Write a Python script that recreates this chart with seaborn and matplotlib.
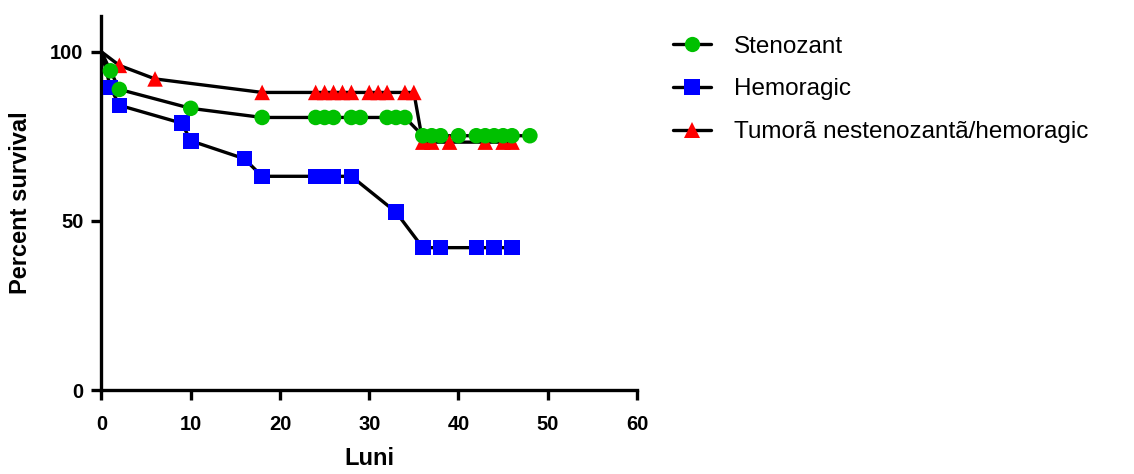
import matplotlib
matplotlib.use("Agg")
import matplotlib.pyplot as plt
from matplotlib.lines import Line2D
import pandas as pd
import seaborn as sns

# Kaplan-Meier style survival points (months, percent); the first point is the origin
groups = ["Stenozant", "Hemoragic", "Tumorã nestenozantã/hemoragic"]

stenozant_luni = [0, 1, 2, 10, 18, 24, 25, 26, 28, 29, 32, 33, 34,
                  36, 37, 38, 40, 42, 43, 44, 45, 46, 48]
stenozant_pct = [100, 94.4, 88.9, 83.3, 80.6, 80.6, 80.6, 80.6, 80.6, 80.6, 80.6, 80.6, 80.6,
                 75.2, 75.2, 75.2, 75.2, 75.2, 75.2, 75.2, 75.2, 75.2, 75.2]

hemoragic_luni = [0, 1, 2, 9, 10, 16, 18, 24, 25, 26, 28, 33, 36, 38, 42, 44, 46]
hemoragic_pct = [100, 89.5, 84.2, 78.9, 73.7, 68.4, 63.2, 63.2, 63.2, 63.2, 63.2,
                 52.6, 42.1, 42.1, 42.1, 42.1, 42.1]

tumora_luni = [0, 2, 6, 18, 24, 25, 26, 27, 28, 30, 31, 32, 34, 35,
               36, 37, 39, 43, 45, 46]
tumora_pct = [100, 96, 92, 88, 88, 88, 88, 88, 88, 88, 88, 88, 88, 88,
              73.3, 73.3, 73.3, 73.3, 73.3, 73.3]

colors = {groups[0]: "#00C000", groups[1]: "#0000FF", groups[2]: "#FF0000"}
markers = {groups[0]: "o", groups[1]: "s", groups[2]: "^"}

frames = []
for name, xs, ys in zip(groups,
                        [stenozant_luni, hemoragic_luni, tumora_luni],
                        [stenozant_pct, hemoragic_pct, tumora_pct]):
    frames.append(pd.DataFrame({"Luni": xs, "Percent survival": ys,
                                "Grup": name, "idx": range(len(xs))}))
df = pd.concat(frames, ignore_index=True)

sns.set_theme(style="ticks")
plt.rcParams["font.family"] = ["Liberation Sans", "DejaVu Sans"]
plt.rcParams["text.color"] = "black"
plt.rcParams["axes.labelcolor"] = "black"

fig = plt.figure(figsize=(11.34, 4.74), dpi=100)
ax = fig.add_axes([0.0895, 0.1772, 0.4722, 0.789])

# black connecting lines
sns.lineplot(data=df, x="Luni", y="Percent survival", hue="Grup",
             palette={g: "black" for g in groups}, estimator=None, sort=False,
             linewidth=2.4, legend=False, ax=ax, zorder=2)

# coloured markers (origin excluded), red first, green on top
pts = df[df["idx"] > 0].copy()
pts["order"] = pts["Grup"].map({groups[2]: 0, groups[1]: 1, groups[0]: 2})
pts = pts.sort_values(["order", "Luni"], kind="stable")
sns.scatterplot(data=pts, x="Luni", y="Percent survival", hue="Grup", style="Grup",
                palette=colors, markers=markers, s=125, linewidth=0,
                legend=False, ax=ax, zorder=3, clip_on=False)

ax.set_xlim(0, 60)
ax.set_ylim(0, 110.6)
ax.set_xticks(range(0, 61, 10))
ax.set_yticks([0, 50, 100])
sns.despine(ax=ax)
for side in ("left", "bottom"):
    ax.spines[side].set_linewidth(2.4)
    ax.spines[side].set_color("black")
ax.tick_params(axis="both", width=2.4, length=7, color="black",
               labelsize=14.5, labelcolor="black")
ax.tick_params(axis="x", pad=11)
ax.tick_params(axis="y", pad=6)
plt.setp(ax.get_xticklabels() + ax.get_yticklabels(), fontweight="bold")

ax.set_xlabel("Luni", fontsize=17, fontweight="bold", labelpad=9)
ax.set_ylabel("Percent survival", fontsize=17, fontweight="bold", labelpad=13)

handles = [Line2D([0], [0], color="black", linewidth=2.4, marker=markers[g],
                  markersize=11, markerfacecolor=colors[g], markeredgewidth=0)
           for g in groups]
fig.legend(handles, groups, loc="upper left", bbox_to_anchor=(0.585, 0.945),
           frameon=False, fontsize=17.5, handlelength=1.55, handletextpad=0.95,
           labelspacing=0.85, borderaxespad=0)

fig.savefig("out.png", dpi=100)
